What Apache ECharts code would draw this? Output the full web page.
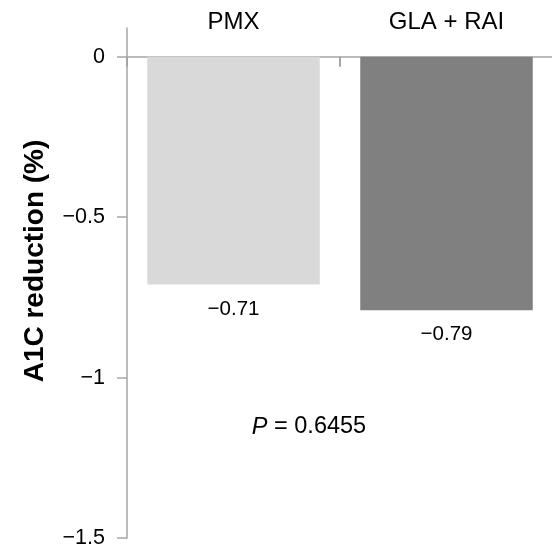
<!DOCTYPE html>
<html>
<head>
<meta charset="utf-8">
<script src="https://cdn.jsdelivr.net/npm/echarts@6/dist/echarts.min.js"></script>
<style>html,body{margin:0;padding:0;background:#fff;}#c{width:552px;height:551px;}</style>
</head>
<body>
<div id="c"></div>
<script>
const categories = ['PMX', 'GLA + RAI'];
const values = [-0.71, -0.79];
const barColors = ['#d9d9d9', '#808080'];
const yTicks = [-1.5, -1, -0.5, 0];
const pText = '0.6455';
const yMin = -1.5, yMax = 0.09;

const fmt = v => (v < 0 ? '\u2212' : '') + Math.abs(v);
const chart = echarts.init(document.getElementById('c'));
const FONT = 'Liberation Sans, Arial, sans-serif';
const gridTop = 28, gridBottom = 13, H = 551;
const zeroOffset = (H - gridTop - gridBottom) * yMax / (yMax - yMin);
chart.setOption({
  animation: false,
  grid: { left: 127, right: -1, top: gridTop, bottom: gridBottom, containLabel: false, outerBoundsMode: 'none' },
  xAxis: {
    type: 'category', data: categories, position: 'top', offset: -zeroOffset,
    axisLine: { onZero: false, lineStyle: { color: '#a6a6a6', width: 1.5 } },
    axisTick: { show: true, inside: true, interval: 0, alignWithLabel: false, length: 10, lineStyle: { color: '#a6a6a6', width: 2 } },
    axisLabel: { interval: 0, margin: 22, fontSize: 24, color: '#000', fontFamily: FONT }
  },
  yAxis: {
    type: 'value', min: yMin, max: yMax,
    splitLine: { show: false },
    axisLine: { show: true, lineStyle: { color: '#a6a6a6', width: 1.5 } },
    axisTick: { show: true, length: 10, customValues: yTicks, lineStyle: { color: '#a6a6a6', width: 1.5 } },
    axisLabel: { customValues: yTicks, margin: 22, fontSize: 21.5, color: '#000', fontFamily: FONT, formatter: fmt }
  },
  series: [{
    type: 'bar', barWidth: '81%',
    data: values.map((v, i) => ({ value: v, itemStyle: { color: barColors[i] } })),
    label: {
      show: true, position: 'bottom', distance: 14, fontSize: 20.5, color: '#000', fontFamily: FONT,
      formatter: p => fmt(p.value.toFixed(2) * 1).replace(/(\.\d)$/, '$10')
    }
  }],
  graphic: [
    {
      type: 'text', x: 35, y: 261, rotation: Math.PI / 2,
      style: { text: 'A1C reduction (%)', font: 'bold 28px ' + FONT, fill: '#000', textAlign: 'center', textVerticalAlign: 'middle' }
    },
    {
      type: 'text', x: 309, y: 427,
      style: {
        text: '{i|P} = ' + pText, font: '23.5px ' + FONT, fill: '#000', textAlign: 'center', textVerticalAlign: 'middle',
        rich: { i: { fontStyle: 'italic', fontSize: 23.5, fontFamily: FONT, fill: '#000' } }
      }
    }
  ]
});
</script>
</body>
</html>
